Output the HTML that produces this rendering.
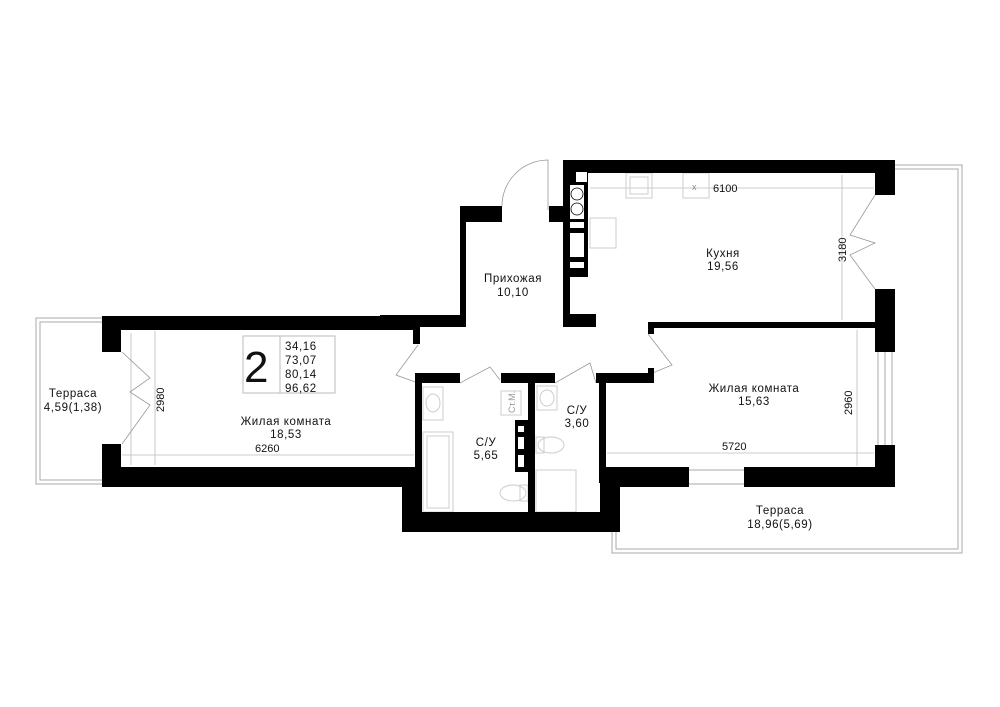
<!DOCTYPE html>
<html><head><meta charset="utf-8"><style>
html,body{margin:0;padding:0;background:#fff}
svg{display:block}
text{font-family:"Liberation Sans",sans-serif;fill:#111}
.d{fill:#999;font-size:11px}
.lb text{letter-spacing:0.6px}
</style></head><body>
<svg width="1000" height="707" viewBox="0 0 1000 707" xmlns="http://www.w3.org/2000/svg">
<g fill="none" stroke="#aaa" stroke-width="1">
<path d="M102 318 H36 V484 H102"/><path d="M102 322 H40 V480 H102"/>
<path d="M895 165 H962 V553 H612 V532"/><path d="M895 169 H958 V549 H616 V532"/>
</g>
<g stroke="#bbb" stroke-width="0.8" fill="none">
<line x1="122" y1="455" x2="414" y2="455"/><line x1="131" y1="333" x2="131" y2="465"/>
<line x1="155" y1="331" x2="155" y2="465"/>
<line x1="590" y1="188" x2="874" y2="188"/><line x1="842" y1="175" x2="842" y2="320"/>
<line x1="607" y1="453" x2="874" y2="453"/><line x1="857" y1="330" x2="857" y2="466"/>
</g>
<g class="d">
<text x="255" y="452" font-size="11">6260</text>
<text x="713" y="192" font-size="11">6100</text>
<text x="722" y="450" font-size="11">5720</text>
<text transform="translate(164,412) rotate(-90)" font-size="11">2980</text>
<text transform="translate(846,262) rotate(-90)" font-size="11">3180</text>
<text transform="translate(852,415) rotate(-90)" font-size="11">2960</text>
</g>
<g fill="none" stroke="#ccc" stroke-width="1">
<rect x="626" y="173" width="26" height="25"/><rect x="630" y="177" width="18" height="17"/>
<rect x="683" y="173" width="26" height="25"/>
<rect x="590" y="218" width="26" height="30"/>
<rect x="423" y="387" width="20" height="33"/><ellipse cx="433" cy="403" rx="7" ry="9"/>
<rect x="423" y="432" width="30" height="80"/><rect x="427" y="436" width="22" height="72"/>
<rect x="501" y="391" width="20" height="24"/>
<rect x="537" y="386" width="20" height="24"/><ellipse cx="547" cy="398" rx="7" ry="8"/>
<ellipse cx="513" cy="493" rx="13" ry="8"/><rect x="520" y="485" width="8" height="16"/>
<ellipse cx="551" cy="445" rx="13" ry="8"/><rect x="536" y="437" width="8" height="16"/>
<rect x="536" y="470" width="40" height="42"/>
</g>
<text x="692" y="190" font-size="9" style="fill:#888">x</text>
<text transform="translate(515,413) rotate(-90)" font-size="9" style="fill:#999">Ст.М.</text>
<g fill="none" stroke="#999" stroke-width="0.8">
<path d="M502 206 A46 46 0 0 1 548 160 V210"/>
<path d="M418 345 L396 375 L418 383"/>
<path d="M648 334 L672 365 L650 374"/>
<path d="M460 383 L490 367 L500 380"/>
<path d="M555 383 L590 363 L596 383"/>
<path d="M122 352 L150 378 L130 392 L150 405 L122 444"/>
<path d="M875 195 L850 235 L875 243 L850 255 L875 289"/>
</g>
<g stroke="#aaa" stroke-width="1" fill="none">
<line x1="878" y1="352" x2="878" y2="445"/><line x1="885" y1="352" x2="885" y2="445"/><line x1="892" y1="352" x2="892" y2="445"/>
<line x1="689" y1="470" x2="744" y2="470"/><line x1="689" y1="484" x2="744" y2="484"/>
</g>
<g fill="#000">
<rect x="102" y="316" width="318" height="14"/>
<rect x="380" y="315" width="86" height="12"/>
<rect x="460" y="206" width="6" height="121"/>
<rect x="460" y="206" width="42" height="16"/>
<rect x="549" y="206" width="14" height="16"/>
<rect x="102" y="316" width="19" height="36"/>
<rect x="102" y="444" width="19" height="43"/>
<rect x="102" y="467" width="320" height="20"/>
<rect x="413" y="330" width="7" height="14"/>
<rect x="402" y="467" width="20" height="65"/>
<rect x="402" y="512" width="218" height="20"/>
<rect x="415" y="373" width="7" height="159"/>
<rect x="415" y="373" width="45" height="10"/>
<rect x="501" y="373" width="54" height="10"/>
<rect x="528" y="373" width="7" height="142"/>
<rect x="515" y="420" width="13" height="52"/>
<rect x="596" y="373" width="58" height="10"/>
<rect x="648" y="368" width="6" height="15"/>
<rect x="599" y="373" width="7" height="110"/>
<rect x="600" y="467" width="89" height="20"/>
<rect x="744" y="467" width="151" height="20"/>
<rect x="600" y="467" width="20" height="65"/>
<rect x="875" y="445" width="20" height="42"/>
<rect x="875" y="289" width="20" height="63"/>
<rect x="648" y="322" width="227" height="6"/>
<rect x="648" y="322" width="6" height="12"/>
<rect x="563" y="160" width="332" height="13"/>
<rect x="875" y="160" width="20" height="35"/>
<rect x="563" y="160" width="7" height="167"/>
<rect x="563" y="160" width="25" height="117"/>
<rect x="563" y="314" width="33" height="13"/>
</g>
<g fill="#fff">
<rect x="576" y="172" width="11" height="10"/>
<rect x="570" y="185" width="14" height="34"/>
<rect x="570" y="222" width="14" height="6"/>
<rect x="570" y="233" width="14" height="24"/>
<rect x="570" y="262" width="14" height="6"/>
<rect x="518" y="426" width="6" height="6"/><rect x="518" y="437" width="6" height="12"/><rect x="518" y="455" width="6" height="12"/>
</g>
<g fill="none" stroke="#000" stroke-width="0.8"><circle cx="577" cy="194" r="6"/><circle cx="577" cy="209" r="6"/></g>
<rect x="243" y="336" width="92" height="57" fill="none" stroke="#bbb"/>
<line x1="280" y1="336" x2="280" y2="393" stroke="#bbb"/>
<text x="244" y="382" font-size="44">2</text>
<g font-size="11.5" class="lb"><text x="285" y="350">34,16</text><text x="285" y="364">73,07</text><text x="285" y="378">80,14</text><text x="285" y="392">96,62</text></g>
<g font-size="11.5" text-anchor="middle" class="lb">
<text x="513" y="282">Прихожая</text><text x="513" y="296">10,10</text>
<text x="723" y="257">Кухня</text><text x="723" y="270">19,56</text>
<text x="286" y="425">Жилая комната</text><text x="286" y="438">18,53</text>
<text x="754" y="392">Жилая комната</text><text x="754" y="405">15,63</text>
<text x="486" y="446">С/У</text><text x="486" y="459">5,65</text>
<text x="577" y="414">С/У</text><text x="577" y="427">3,60</text>
<text x="73" y="397">Терраса</text><text x="73" y="411">4,59(1,38)</text>
<text x="780" y="514">Терраса</text><text x="780" y="528">18,96(5,69)</text>
</g>
</svg>
</body></html>
